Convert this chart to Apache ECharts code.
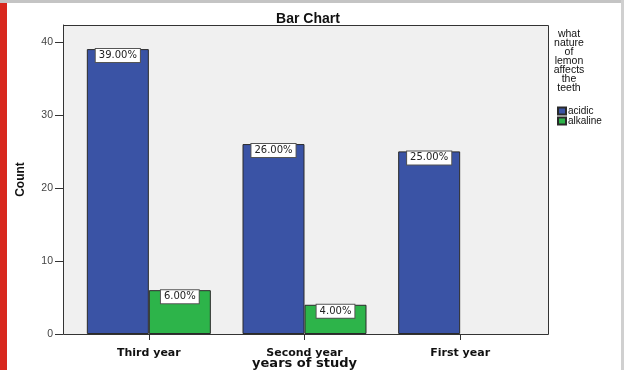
<!DOCTYPE html>
<html>
<head>
<meta charset="utf-8">
<script src="https://cdn.jsdelivr.net/npm/echarts@6/dist/echarts.min.js"></script>
<style>
  html, body { margin: 0; padding: 0; background: #ffffff; }
  #chart { width: 624px; height: 370px; }
</style>
</head>
<body>
<div id="chart"></div>
<script>
// Students' answers, by year of study
const categories = ['Third year', 'Second year', 'First year'];
const acidic = [39, 26, 25];
const alkaline = [6, 4, 0];
const legendTitle = ['what', 'nature', 'of', 'lemon', 'affects', 'the', 'teeth'];

const total = acidic.concat(alkaline).reduce((a, b) => a + b, 0);
const pct = v => (v / total * 100).toFixed(2) + '%';

const barLabel = {
  show: true,
  position: 'insideTop',
  distance: 0,
  formatter: p => pct(p.value),
  fontFamily: 'DejaVu Sans, sans-serif',
  fontSize: 10,
  lineHeight: 11,
  color: '#222',
  backgroundColor: '#ffffff',
  borderColor: '#555',
  borderWidth: 1,
  padding: [1, 3]
};

// empty bars carry no label and no outline
const withLabels = arr => arr.map(v => ({
  value: v,
  label: { show: v > 0 },
  itemStyle: v > 0 ? {} : { borderWidth: 0 }
}));

const chart = echarts.init(document.getElementById('chart'));
chart.setOption({
  backgroundColor: '#ffffff',
  animation: false,
  title: {
    text: 'Bar Chart',
    left: 303,
    top: 7,
    textAlign: 'center',
    textStyle: { fontFamily: 'Liberation Sans, Arial, sans-serif', fontWeight: 'bold', fontSize: 14, color: '#111' }
  },
  graphic: [
    { type: 'rect', z: -10, shape: { x: 0, y: 0, width: 7, height: 370 }, style: { fill: '#d8281e' } },
    { type: 'rect', z: -10, shape: { x: 0, y: 0, width: 624, height: 3 }, style: { fill: '#c4c4c4' } },
    { type: 'rect', z: -10, shape: { x: 621, y: 0, width: 3, height: 370 }, style: { fill: '#d0d0d0' } },
    { type: 'rect', z: -5, shape: { x: 63.5, y: 25.5, width: 485, height: 309 }, style: { fill: '#f0f0f0', stroke: '#333', lineWidth: 1 } },
    {
      type: 'text', x: 569, y: 30,
      style: {
        text: legendTitle.join('\n'),
        textAlign: 'center',
        textVerticalAlign: 'top',
        fontFamily: 'Liberation Sans, Arial, sans-serif',
        fontSize: 10.5,
        lineHeight: 9,
        fill: '#111'
      }
    }
  ],
  legend: {
    orient: 'vertical',
    left: 552,
    top: 101,
    itemWidth: 8,
    itemHeight: 7,
    itemGap: 0,
    icon: 'rect',
    data: ['acidic', 'alkaline'],
    textStyle: { fontFamily: 'Liberation Sans, Arial, sans-serif', fontSize: 10, color: '#111', padding: [0, 0, 0, -3] }
  },
  grid: { left: 71, top: 25, width: 467, height: 309, outerBoundsMode: 'none', containLabel: false },
  xAxis: {
    type: 'category',
    data: categories,
    name: 'years of study',
    nameLocation: 'middle',
    nameGap: 23,
    nameMoveOverlap: false,
    nameTextStyle: { fontFamily: 'DejaVu Sans, sans-serif', fontWeight: 'bold', fontSize: 13, color: '#111' },
    axisLine: { show: false },
    axisTick: { show: true, alignWithLabel: true, length: 6, lineStyle: { color: '#333' } },
    axisLabel: { margin: 14, fontFamily: 'DejaVu Sans, sans-serif', fontWeight: 'bold', fontSize: 11, color: '#111' }
  },
  yAxis: {
    type: 'value',
    min: 0,
    max: 42.3,
    interval: 10,
    offset: 8,
    name: 'Count',
    nameLocation: 'middle',
    nameGap: 36,
    nameTextStyle: { fontFamily: 'Liberation Sans, Arial, sans-serif', fontWeight: 'bold', fontSize: 12, color: '#111' },
    axisLine: { show: true, lineStyle: { color: '#333' } },
    axisTick: { show: true, length: 8, lineStyle: { color: '#333' } },
    axisLabel: { showMaxLabel: false, margin: 10, fontFamily: 'Liberation Sans, Arial, sans-serif', fontSize: 10.5, color: '#444' },
    splitLine: { show: false }
  },
  series: [
    {
      name: 'acidic',
      type: 'bar',
      data: withLabels(acidic),
      barWidth: 62,
      barGap: '0%',
      itemStyle: { color: '#3a53a5', borderColor: '#2a2a2a', borderWidth: 1 },
      label: barLabel
    },
    {
      name: 'alkaline',
      type: 'bar',
      data: withLabels(alkaline),
      barWidth: 62,
      barGap: '0%',
      itemStyle: { color: '#2db44a', borderColor: '#2a2a2a', borderWidth: 1 },
      label: barLabel
    }
  ]
});
</script>
</body>
</html>
